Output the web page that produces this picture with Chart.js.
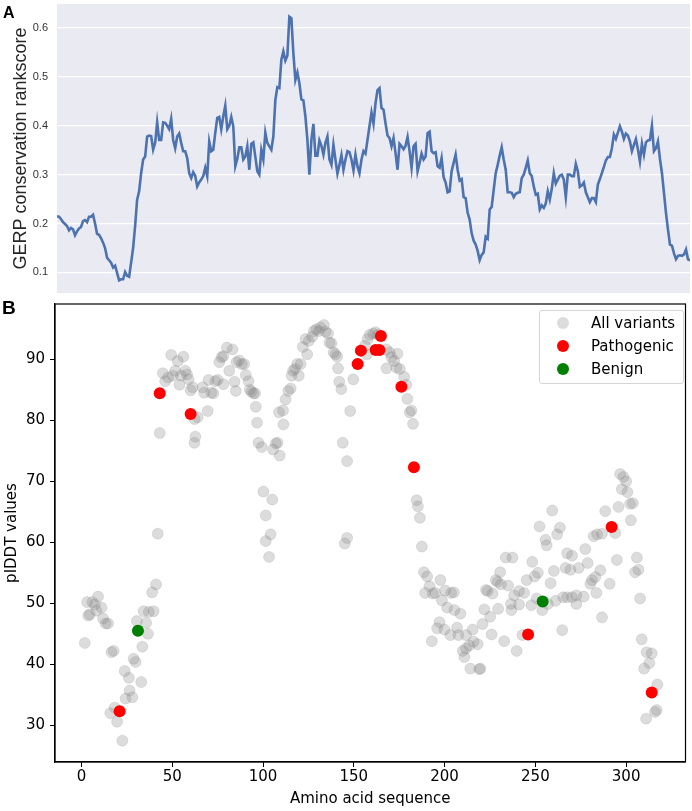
<!DOCTYPE html>
<html>
<head>
<meta charset="utf-8">
<script src="https://cdn.jsdelivr.net/npm/chart.js@4.4.1/dist/chart.umd.min.js"></script>
<style>
  body { margin: 0; background: #fff; }
  #wrap { position: relative; width: 692px; height: 811px; overflow: hidden; }
  canvas { position: absolute; left: 0; }
  #chartA { top: 0; }
  #chartB { top: 295px; }
  .panel { position: absolute; font-family: "Liberation Sans", Arial, sans-serif; font-weight: bold; line-height: 1; color: #000; }
  #legend { position: absolute; left: 539px; top: 310px; width: 143px; height: 72px;
    border: 1px solid #d5d5d5; border-radius: 3px; background: rgba(255,255,255,0.8);
    font-family: "DejaVu Sans", sans-serif; font-size: 15px; color: #000; }
  .row { position: absolute; left: 0; height: 20px; line-height: 20px; }
  .dot { position: absolute; left: 17px; top: 4px; width: 12px; height: 12px; border-radius: 50%; }
  .lbl { position: absolute; left: 51px; white-space: nowrap; }
</style>
</head>
<body>
<div id="wrap">
  <canvas id="chartA" width="692" height="295"></canvas>
  <canvas id="chartB" width="692" height="516"></canvas>
  <div class="panel" style="left:3px;top:5px;font-size:16px;">A</div>
  <div class="panel" style="left:2px;top:298px;font-size:19px;">B</div>
  <div id="legend"></div>
</div>
<script>
// panel A: GERP conservation rankscore, one value per residue (1..317)
const gerpScores = [
  0.215, 0.214, 0.209, 0.203, 0.199, 0.195, 0.186, 0.191, 0.188, 0.176,
  0.184, 0.190, 0.193, 0.205, 0.207, 0.203, 0.214, 0.214, 0.218, 0.200,
  0.179, 0.177, 0.170, 0.161, 0.150, 0.130, 0.125, 0.120, 0.110, 0.114,
  0.099, 0.084, 0.086, 0.086, 0.101, 0.093, 0.091, 0.120, 0.150, 0.195,
  0.249, 0.266, 0.303, 0.331, 0.337, 0.378, 0.380, 0.379, 0.351, 0.365,
  0.407, 0.371, 0.371, 0.407, 0.406, 0.400, 0.393, 0.414, 0.371, 0.354,
  0.378, 0.384, 0.365, 0.348, 0.348, 0.334, 0.303, 0.293, 0.305, 0.298,
  0.276, 0.284, 0.290, 0.297, 0.314, 0.297, 0.368, 0.348, 0.351, 0.385,
  0.416, 0.418, 0.393, 0.419, 0.441, 0.393, 0.400, 0.418, 0.399, 0.317,
  0.332, 0.356, 0.356, 0.331, 0.337, 0.358, 0.310, 0.363, 0.366, 0.337,
  0.307, 0.300, 0.350, 0.331, 0.386, 0.365, 0.358, 0.351, 0.378, 0.453,
  0.479, 0.477, 0.535, 0.552, 0.533, 0.543, 0.623, 0.620, 0.548, 0.494,
  0.509, 0.487, 0.454, 0.452, 0.419, 0.371, 0.300, 0.371, 0.404, 0.339,
  0.339, 0.370, 0.359, 0.341, 0.365, 0.378, 0.331, 0.320, 0.361, 0.331,
  0.302, 0.320, 0.340, 0.310, 0.331, 0.348, 0.346, 0.331, 0.309, 0.341,
  0.317, 0.303, 0.331, 0.348, 0.343, 0.371, 0.399, 0.427, 0.404, 0.446,
  0.473, 0.477, 0.436, 0.433, 0.405, 0.380, 0.375, 0.358, 0.375, 0.344,
  0.310, 0.363, 0.358, 0.352, 0.359, 0.377, 0.348, 0.314, 0.358, 0.363,
  0.307, 0.324, 0.343, 0.331, 0.337, 0.385, 0.388, 0.348, 0.344, 0.346,
  0.317, 0.314, 0.334, 0.295, 0.284, 0.264, 0.266, 0.307, 0.324, 0.341,
  0.310, 0.288, 0.291, 0.254, 0.252, 0.222, 0.208, 0.180, 0.165, 0.157,
  0.144, 0.125, 0.136, 0.141, 0.173, 0.169, 0.229, 0.234, 0.269, 0.303,
  0.320, 0.339, 0.356, 0.331, 0.310, 0.264, 0.264, 0.263, 0.254, 0.261,
  0.263, 0.264, 0.293, 0.300, 0.314, 0.329, 0.303, 0.297, 0.276, 0.259,
  0.261, 0.229, 0.237, 0.232, 0.241, 0.266, 0.249, 0.271, 0.303, 0.282,
  0.290, 0.298, 0.300, 0.290, 0.254, 0.300, 0.300, 0.297, 0.297, 0.322,
  0.307, 0.275, 0.278, 0.284, 0.264, 0.254, 0.244, 0.252, 0.252, 0.244,
  0.280, 0.291, 0.303, 0.316, 0.329, 0.336, 0.336, 0.354, 0.382, 0.373,
  0.386, 0.399, 0.388, 0.373, 0.384, 0.380, 0.368, 0.348, 0.361, 0.373,
  0.352, 0.327, 0.363, 0.341, 0.366, 0.370, 0.371, 0.400, 0.348, 0.354,
  0.368, 0.332, 0.303, 0.263, 0.222, 0.188, 0.157, 0.155, 0.139, 0.127,
  0.134, 0.135, 0.134, 0.137, 0.147, 0.127, 0.125
];
const gerpTicks = [0.1, 0.2, 0.3, 0.4, 0.5, 0.6];

// panel B: pLDDT per variant, [amino acid position, pLDDT]
const allVariants = [
  [1.8,43.5],[3.1,50.2],[3.7,48.0],[4.6,48.2],[6.0,50.2],[7.3,49.8],[9.1,51.1],[8.2,48.8],[11.0,49.3],[11.9,47.5],
  [13.3,46.7],[14.6,46.7],[16.5,42.0],[17.7,42.2],[15.9,32.0],[18.3,32.9],[19.6,30.6],[22.5,27.5],[23.8,38.9],[26.1,37.8],
  [24.3,34.4],[26.5,35.7],[28.0,34.6],[28.7,40.9],[29.8,40.4],[32.9,37.1],[33.5,42.9],[30.5,47.1],[34.2,48.7],[35.6,46.8],
  [37.1,48.6],[36.6,45.0],[39.7,48.7],[38.9,51.8],[41.1,53.1],[42.0,61.4],[21.0,32.3],[31.1,45.5],
  [43.1,77.9],[44.8,87.7],[46.1,86.4],[47.7,87.0],[49.4,90.7],[50.3,87.3],[51.6,88.1],[53.0,89.7],[54.0,85.8],[54.8,87.3],
  [56.1,90.4],[57.2,88.1],[58.1,87.5],[59.0,86.7],[60.1,84.9],[61.2,85.4],[62.3,80.2],[64.0,80.5],[62.7,77.3],[62.2,76.3],
  [66.7,85.4],[67.6,84.5],[69.5,81.5],[70.0,86.6],[71.5,84.5],[72.6,84.4],[73.7,86.4],[75.0,86.6],[78.1,85.9],[75.9,89.5],
  [77.1,90.3],[78.1,90.5],[80.1,91.9],[83.2,91.6],[81.4,88.1],[84.3,86.3],[85.0,84.8],[85.4,89.5],[86.8,89.8],[88.3,89.2],
  [89.6,89.2],[90.5,87.4],[92.0,86.4],[92.7,85.0],[93.6,84.7],[94.7,84.4],[95.6,84.4],[96.0,82.2],[96.7,79.6],[97.5,76.3],
  [99.3,75.6],[100.2,68.3],[101.5,64.4],[105.1,67.0],[104.2,61.3],[101.5,60.2],[103.3,57.6],[105.5,75.2],[107.0,76.2],[108.0,76.3],
  [109.2,74.2],[108.8,81.3],[111.0,81.6],[111.2,79.3],[112.4,83.4],[113.9,84.8],[115.2,85.2],[115.7,87.3],[116.5,88.1],[117.6,88.4],
  [118.8,89.2],[119.7,87.3],[120.7,89.2],[121.9,92.0],[123.4,93.3],[124.3,90.8],[125.2,93.0],[127.1,93.7],[128.0,94.6],[129.3,94.9],
  [130.7,94.6],[131.6,95.2],[133.5,95.6],[134.4,94.5],[135.8,94.2],[136.6,92.7],[137.7,92.6],[138.9,91.1],[139.9,90.8],[140.8,90.4],
  [141.3,88.5],[142.0,86.3],[143.1,85.1],[143.9,76.3],[146.3,73.3],[148.0,81.5],[149.7,86.7],[145.0,59.8],[146.3,60.7],
  [152.1,89.2],[153.9,91.4],[156.1,92.2],[157.6,93.3],[158.8,94.0],[160.7,94.2],[162.0,94.4],[163.5,94.0],[157.2,90.8],[168.0,91.6],
  [169.8,91.1],[170.7,90.3],[172.2,89.7],[174.0,90.9],[168.0,88.5],[173.5,88.6],[175.3,88.4],[177.7,87.1],[178.9,85.8],[179.5,83.5],
  [180.8,81.3],[181.7,81.6],[182.6,79.4],[184.6,66.9],[185.3,65.9],[186.4,64.0],
  [187.5,59.3],[188.6,55.1],[190.4,54.4],[191.7,52.8],[189.3,51.7],[193.5,51.6],[194.8,51.7],[197.7,53.8],[198.5,50.5],[200.3,52.1],
  [203.6,51.7],[205.1,51.8],[201.4,49.3],[205.4,48.9],[208.7,48.3],[197.2,46.9],[195.9,45.9],[199.9,45.7],[203.2,44.8],[206.9,46.0],
  [207.6,44.8],[211.8,44.8],[215.5,45.7],[193.0,43.8],[210.0,42.2],[211.8,42.6],[213.6,43.1],[216.0,43.7],[218.2,43.3],[210.9,41.2],
  [214.2,39.3],[219.1,39.2],[219.7,39.3],[220.9,46.6],[225.9,44.9],[232.8,43.8],[239.7,42.2],[242.9,44.8],[221.9,49.0],[225.1,47.8],
  [222.8,52.2],[223.7,52.0],[226.4,51.6],[228.2,53.8],[229.2,53.5],[231.0,53.1],[235.0,52.9],[230.6,55.1],[233.7,57.5],[237.4,57.5],
  [229.5,49.1],[236.5,49.9],[236.8,48.9],[241.0,49.8],[238.3,51.3],[241.0,52.0],[243.8,51.7],[245.2,53.8],[248.3,56.8],[249.6,54.4],
  [251.4,55.0],[247.8,49.7],[250.7,50.8],[253.8,48.9],[258.4,53.3],[260.2,55.3],[256.9,49.9],[261.1,50.4],[264.8,45.6],[265.3,51.0],
  [267.5,51.0],[266.6,55.8],[269.3,55.5],[270.2,51.0],[272.6,49.9],[272.6,51.3],[273.9,55.8],[276.6,51.1],[278.8,56.6],[277.5,58.9],
  [280.3,53.2],[281.2,53.8],[283.6,51.7],[283.0,54.3],[285.8,55.4],[286.7,47.7],[290.9,53.2],[294.9,57.1],[267.5,58.2],[270.2,57.8],
  [256.2,59.5],[255.6,60.4],[262.0,61.3],[282.1,61.0],[284.0,61.3],[286.7,61.4],[294.0,61.5],[304.9,55.1],[306.8,55.5],[305.9,57.5],
  [307.7,50.8],[308.6,44.1],[311.3,42.0],[314.1,41.8],[312.8,40.2],[309.9,39.3],[317.2,36.7],[311.0,31.1],[315.9,32.2],[316.8,32.5],
  [296.7,71.2],[298.5,70.7],[300.0,70.0],[297.6,68.7],[300.7,68.2],[302.2,66.3],[303.7,66.4],[295.8,65.8],[288.5,65.1],[302.6,63.6],
  [259.3,65.2],[252.3,62.6],[263.5,62.4]
];
const pathogenic = [
  [21.0,32.3],[43.1,84.4],[60.1,81.0],[152.1,89.2],[153.9,91.4],[162.0,91.5],[164.1,91.5],
  [164.9,93.8],[176.2,85.5],[183.1,72.3],[246.0,44.9],[292.0,62.5],[314.1,35.4]
];
const benign = [[31.1,45.5],[254.0,50.3]];
const xTicksB = [0, 50, 100, 150, 200, 250, 300];
const yTicksB = [30, 40, 50, 60, 70, 80, 90];

const seriesNames = ['All variants', 'Pathogenic', 'Benign'];
const seriesColors = ['rgba(128,128,128,0.28)', '#ff0000', '#008000'];

const toPts = arr => arr.map(p => ({x: p[0], y: p[1]}));
const fixTicks = list => scale => { scale.ticks = list.map(v => ({value: v})); };
// fixed axis box, no extra room kept for the edge labels
const fixWidth = w => s => { s.width = w; s.paddingTop = 0; s.paddingBottom = 0; };
const fixHeight = h => s => { s.height = h; s.paddingLeft = 0; s.paddingRight = 0; };

const plotBg = {
  id: 'plotBg',
  beforeDraw(chart, args, opts) {
    const a = chart.chartArea, ctx = chart.ctx;
    ctx.save();
    ctx.fillStyle = opts.color;
    ctx.fillRect(a.left, a.top, a.right - a.left, a.bottom - a.top);
    ctx.restore();
  }
};

const frame = {
  id: 'frame',
  afterDraw(chart) {
    const a = chart.chartArea, ctx = chart.ctx;
    ctx.save();
    ctx.strokeStyle = '#000';
    ctx.lineWidth = 1.2;
    ctx.strokeRect(a.left, a.top, a.right - a.left, a.bottom - a.top);
    ctx.restore();
  }
};

function createGerpChart() {
  const ctx = document.getElementById('chartA').getContext('2d');
  new Chart(ctx, {
    type: 'line',
    data: {
      datasets: [{
        data: gerpScores.map((v, i) => ({x: i + 1, y: v})),
        borderColor: '#4c72b0',
        borderWidth: 2.6,
        pointRadius: 0,
        tension: 0
      }]
    },
    options: {
      responsive: false,
      animation: false,
      layout: {padding: {top: 4, right: 2, bottom: 2, left: 0}},
      plugins: {legend: {display: false}, tooltip: {enabled: false}, plotBg: {color: '#eaeaf2'}},
      scales: {
        x: {type: 'linear', min: 1, max: gerpScores.length, display: false},
        y: {
          min: 0.058, max: 0.649,
          afterBuildTicks: fixTicks(gerpTicks),
          afterFit: fixWidth(57),
          grid: {color: '#ffffff', lineWidth: 1.3, drawTicks: false},
          border: {display: false},
          ticks: {color: '#333', padding: 9, font: {family: 'Liberation Sans, Arial', size: 11}},
          title: {display: true, text: 'GERP conservation rankscore', color: '#262626',
            font: {family: 'Liberation Sans, Arial', size: 18}, padding: {top: 10}}
        }
      }
    },
    plugins: [plotBg]
  });
}

function createScatterChart() {
  const ctx = document.getElementById('chartB').getContext('2d');
  const axisFont = {family: 'DejaVu Sans', size: 15};
  new Chart(ctx, {
    type: 'scatter',
    data: {
      datasets: [
        {label: seriesNames[0], data: toPts(allVariants), order: 3, pointRadius: 5.5,
          backgroundColor: seriesColors[0], borderColor: 'rgba(128,128,128,0.18)', borderWidth: 1},
        {label: seriesNames[1], data: toPts(pathogenic), order: 2, pointRadius: 6,
          backgroundColor: seriesColors[1], borderWidth: 0},
        {label: seriesNames[2], data: toPts(benign), order: 1, pointRadius: 6,
          backgroundColor: seriesColors[2], borderWidth: 0}
      ]
    },
    options: {
      responsive: false,
      animation: false,
      layout: {padding: {top: 9, right: 3, bottom: 0, left: 0}},
      plugins: {legend: {display: false}, tooltip: {enabled: false}},
      scales: {
        x: {
          type: 'linear', min: -14.6, max: 332.7,
          afterBuildTicks: fixTicks(xTicksB),
          afterFit: fixHeight(49),
          grid: {drawOnChartArea: false, color: '#000', tickLength: 5, tickWidth: 1},
          border: {color: '#000', width: 1.2},
          ticks: {color: '#000', padding: 1, font: axisFont},
          title: {display: true, text: 'Amino acid sequence', color: '#000', font: axisFont, padding: {bottom: 3}}
        },
        y: {
          min: 24.0, max: 99.04,
          afterBuildTicks: fixTicks(yTicksB),
          afterFit: fixWidth(55),
          grid: {drawOnChartArea: false, color: '#000', tickLength: 5, tickWidth: 1},
          border: {color: '#000', width: 1.2},
          ticks: {color: '#000', padding: 5, font: axisFont},
          title: {display: true, text: 'pIDDT values', color: '#000', font: axisFont, padding: {top: 3}}
        }
      }
    },
    plugins: [frame]
  });
}

function buildLegend() {
  const box = document.getElementById('legend');
  const rowTops = [2, 25, 48];
  seriesNames.forEach((name, i) => {
    const row = document.createElement('div');
    row.className = 'row';
    row.style.top = rowTops[i] + 'px';
    const dot = document.createElement('span');
    dot.className = 'dot';
    dot.style.background = seriesColors[i];
    const lbl = document.createElement('span');
    lbl.className = 'lbl';
    lbl.textContent = name;
    row.appendChild(dot);
    row.appendChild(lbl);
    box.appendChild(row);
  });
}

createGerpChart();
createScatterChart();
buildLegend();
</script>
</body>
</html>
